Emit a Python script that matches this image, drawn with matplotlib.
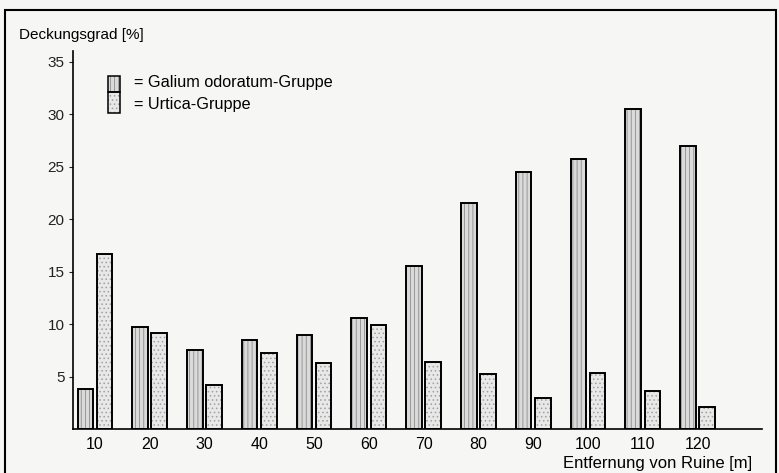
import matplotlib.pyplot as plt
from matplotlib.patches import Rectangle

plt.rcParams['font.family'] = ['Liberation Sans Narrow', 'Liberation Sans', 'DejaVu Sans']
plt.rcParams['hatch.linewidth'] = 0.6

entfernung = [10, 20, 30, 40, 50, 60, 70, 80, 90, 100, 110, 120]
galium = [3.8, 9.7, 7.5, 8.5, 9.0, 10.6, 15.5, 21.5, 24.5, 25.7, 30.5, 27.0]
urtica = [16.7, 9.1, 4.2, 7.2, 6.3, 9.9, 6.4, 5.2, 3.0, 5.3, 3.6, 2.1]
yticks = [5, 10, 15, 20, 25, 30, 35]

bg = '#f6f6f4'
fig = plt.figure(figsize=(7.79, 4.73), dpi=100, facecolor=bg)
ax = fig.add_axes([0.0937, 0.093, 0.884, 0.799])
ax.set_facecolor(bg)

w = 2.85
off = 1.75
x_g = [x - off for x in entfernung]
x_u = [x + off for x in entfernung]
# texture layer (grey hatch), then black outline on top
ax.bar(x_g, galium, width=w, color='#dadada', edgecolor='#8c8c8c', linewidth=0, hatch='||||')
ax.bar(x_u, urtica, width=w, color='#e8e8e8', edgecolor='#a0a0a0', linewidth=0, hatch='....')
ax.bar(x_g, galium, width=w, fill=False, edgecolor='black', linewidth=1.4)
ax.bar(x_u, urtica, width=w, fill=False, edgecolor='black', linewidth=1.4)

ax.set_xlim(6.0, 131.7)
ax.set_ylim(0, 36)
ax.set_yticks(yticks)
ax.set_xticks(entfernung)
ax.tick_params(axis='y', length=3, width=0.8, labelsize=11, colors='#222222', pad=3)
ax.tick_params(axis='x', length=0, labelsize=11.5, pad=6)
for s in ['top', 'right']:
    ax.spines[s].set_visible(False)
ax.spines['left'].set_linewidth(1.2)
ax.spines['bottom'].set_linewidth(1.2)

fig.text(0.025, 0.925, 'Deckungsgrad [%]', fontsize=11, ha='left', va='center')
fig.text(0.966, 0.021, 'Entfernung von Ruine [m]', fontsize=12, ha='right', va='center')

# legend swatches
fig.patches.append(Rectangle((0.139, 0.805), 0.015, 0.035, transform=fig.transFigure,
                             facecolor='#dadada', edgecolor='#8c8c8c', linewidth=0, hatch='||||'))
fig.patches.append(Rectangle((0.139, 0.762), 0.015, 0.043, transform=fig.transFigure,
                             facecolor='#e8e8e8', edgecolor='#a0a0a0', linewidth=0, hatch='....'))
fig.patches.append(Rectangle((0.139, 0.805), 0.015, 0.035, transform=fig.transFigure,
                             fill=False, edgecolor='black', linewidth=1.1))
fig.patches.append(Rectangle((0.139, 0.762), 0.015, 0.043, transform=fig.transFigure,
                             fill=False, edgecolor='black', linewidth=1.1))
fig.text(0.172, 0.826, '= Galium odoratum-Gruppe', fontsize=11.7, ha='left', va='center')
fig.text(0.172, 0.780, '= Urtica-Gruppe', fontsize=11.7, ha='left', va='center')

# page frame
fig.patches.append(Rectangle((0.006, -0.05), 0.99, 1.028, transform=fig.transFigure,
                             fill=False, edgecolor='black', linewidth=1.5))

fig.savefig('out.png', dpi=100, facecolor=bg)
